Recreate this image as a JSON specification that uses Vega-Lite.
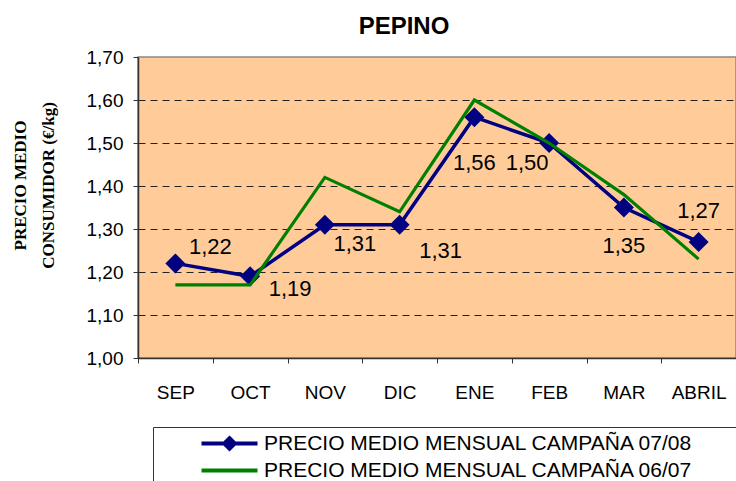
{
  "$schema": "https://vega.github.io/schema/vega-lite/v6.json",
  "autosize": {"type": "none"},
  "padding": {"left": 138, "top": 57, "right": 0, "bottom": 123},
  "width": 598,
  "height": 301,
  "background": "white",
  "config": {
    "locale": {"number": {"decimal": ",", "thousands": ".", "grouping": [3], "currency": ["", " €"]}},
    "view": {"fill": "#FFCC99", "stroke": "#888888", "strokeWidth": 1.5},
    "font": "Liberation Sans"
  },
  "title": {"text": "PEPINO", "font": "Liberation Sans", "fontSize": 24, "fontWeight": "bold", "color": "black", "anchor": "middle", "frame": "group", "dx": -33, "dy": 10, "offset": 0, "baseline": "alphabetic"},
  "data": {"values": [
    {"mes": "SEP", "serie": "PRECIO MEDIO MENSUAL CAMPAÑA 07/08", "valor": 1.22},
    {"mes": "OCT", "serie": "PRECIO MEDIO MENSUAL CAMPAÑA 07/08", "valor": 1.19},
    {"mes": "NOV", "serie": "PRECIO MEDIO MENSUAL CAMPAÑA 07/08", "valor": 1.31},
    {"mes": "DIC", "serie": "PRECIO MEDIO MENSUAL CAMPAÑA 07/08", "valor": 1.31},
    {"mes": "ENE", "serie": "PRECIO MEDIO MENSUAL CAMPAÑA 07/08", "valor": 1.56},
    {"mes": "FEB", "serie": "PRECIO MEDIO MENSUAL CAMPAÑA 07/08", "valor": 1.50},
    {"mes": "MAR", "serie": "PRECIO MEDIO MENSUAL CAMPAÑA 07/08", "valor": 1.35},
    {"mes": "ABRIL", "serie": "PRECIO MEDIO MENSUAL CAMPAÑA 07/08", "valor": 1.27},
    {"mes": "SEP", "serie": "PRECIO MEDIO MENSUAL CAMPAÑA 06/07", "valor": 1.17},
    {"mes": "OCT", "serie": "PRECIO MEDIO MENSUAL CAMPAÑA 06/07", "valor": 1.17},
    {"mes": "NOV", "serie": "PRECIO MEDIO MENSUAL CAMPAÑA 06/07", "valor": 1.42},
    {"mes": "DIC", "serie": "PRECIO MEDIO MENSUAL CAMPAÑA 06/07", "valor": 1.34},
    {"mes": "ENE", "serie": "PRECIO MEDIO MENSUAL CAMPAÑA 06/07", "valor": 1.60},
    {"mes": "FEB", "serie": "PRECIO MEDIO MENSUAL CAMPAÑA 06/07", "valor": 1.50},
    {"mes": "MAR", "serie": "PRECIO MEDIO MENSUAL CAMPAÑA 06/07", "valor": 1.38},
    {"mes": "ABRIL", "serie": "PRECIO MEDIO MENSUAL CAMPAÑA 06/07", "valor": 1.23}
  ]},
  "encoding": {
    "x": {
      "field": "mes", "type": "nominal",
      "sort": ["SEP", "OCT", "NOV", "DIC", "ENE", "FEB", "MAR", "ABRIL"],
      "scale": {"type": "band", "paddingInner": 0, "paddingOuter": 0},
      "axis": {"title": null, "labelAngle": 0, "tickBand": "extent", "tickSize": 5, "tickColor": "#333333", "domainColor": "#333333", "domainWidth": 1.5, "labelFontSize": 19, "labelPadding": 20, "labelColor": "black", "grid": false}
    },
    "y": {
      "field": "valor", "type": "quantitative",
      "scale": {"domain": [1, 1.7], "nice": false, "zero": false},
      "axis": {
        "values": [1, 1.1, 1.2, 1.3, 1.4, 1.5, 1.6, 1.7],
        "format": ".2f",
        "grid": true, "gridDash": [7, 5], "gridColor": "#222222",
        "gridOpacity": {"condition": {"test": "datum.value > 1.05 && datum.value < 1.65", "value": 1}, "value": 0},
        "tickSize": 5, "tickColor": "#333333", "domainColor": "#333333", "domainWidth": 1.5,
        "labelFontSize": 19, "labelPadding": 10, "labelColor": "black",
        "title": ["PRECIO MEDIO", "CONSUMIDOR (€/kg)"],
        "titleFont": "Liberation Serif", "titleFontSize": 17, "titleFontWeight": "bold", "titleColor": "black",
        "titleAngle": -90, "titleX": -118, "titleY": 128, "titleAlign": "center", "titleBaseline": "middle", "titleLineHeight": 28
      }
    }
  },
  "layer": [
    {
      "transform": [{"filter": "datum.serie === 'PRECIO MEDIO MENSUAL CAMPAÑA 07/08'"}],
      "mark": {"type": "line", "color": "#000080", "strokeWidth": 3.5}
    },
    {
      "transform": [{"filter": "datum.serie === 'PRECIO MEDIO MENSUAL CAMPAÑA 07/08'"}],
      "mark": {"type": "point", "shape": "diamond", "filled": true, "size": 400, "opacity": 1, "color": "#000080"}
    },
    {
      "transform": [{"filter": "datum.serie === 'PRECIO MEDIO MENSUAL CAMPAÑA 06/07'"}],
      "mark": {"type": "line", "color": "#008000", "strokeWidth": 3.2}
    },
    {
      "mark": {"type": "point", "filled": false, "size": 0, "strokeWidth": 4, "opacity": 1},
      "encoding": {
        "color": {
          "field": "serie", "type": "nominal",
          "scale": {"domain": ["PRECIO MEDIO MENSUAL CAMPAÑA 07/08", "PRECIO MEDIO MENSUAL CAMPAÑA 06/07"], "range": ["#000080", "#008000"]},
          "legend": {
            "orient": "none", "legendX": 15, "legendY": 370,
            "title": " ", "titleOrient": "right", "titlePadding": 80,
            "strokeColor": "#333333", "fillColor": "white", "padding": 6,
            "labelFontSize": 21, "labelColor": "black", "labelLimit": 700,
            "symbolSize": 196, "symbolOffset": 60, "labelOffset": 24, "rowPadding": 2,
            "symbolStrokeWidth": 4
          }
        },
        "shape": {
          "field": "serie", "type": "nominal",
          "scale": {"domain": ["PRECIO MEDIO MENSUAL CAMPAÑA 07/08", "PRECIO MEDIO MENSUAL CAMPAÑA 06/07"], "range": ["M-4,0H4M0,-0.75L0.75,0L0,0.75L-0.75,0ZM0,-0.35L0.35,0L0,0.35L-0.35,0Z", "M-4,0H4"]},
          "legend": {
            "orient": "none", "legendX": 15, "legendY": 370,
            "title": " ", "titleOrient": "right", "titlePadding": 80,
            "strokeColor": "#333333", "fillColor": "white", "padding": 6,
            "labelFontSize": 21, "labelColor": "black", "labelLimit": 700,
            "symbolSize": 196, "symbolOffset": 60, "labelOffset": 24, "rowPadding": 2,
            "symbolStrokeWidth": 4
          }
        }
      }
    },
    {
      "transform": [{"filter": "datum.serie === 'PRECIO MEDIO MENSUAL CAMPAÑA 07/08' && datum.mes === 'SEP'"}],
      "mark": {"type": "text", "fontSize": 22, "color": "black", "align": "center", "baseline": "middle", "dx": 35, "dy": -16},
      "encoding": {"text": {"field": "valor", "type": "quantitative", "format": ".2f"}}
    },
    {
      "transform": [{"filter": "datum.serie === 'PRECIO MEDIO MENSUAL CAMPAÑA 07/08' && datum.mes === 'OCT'"}],
      "mark": {"type": "text", "fontSize": 22, "color": "black", "align": "center", "baseline": "middle", "dx": 40, "dy": 13},
      "encoding": {"text": {"field": "valor", "type": "quantitative", "format": ".2f"}}
    },
    {
      "transform": [{"filter": "datum.serie === 'PRECIO MEDIO MENSUAL CAMPAÑA 07/08' && datum.mes === 'NOV'"}],
      "mark": {"type": "text", "fontSize": 22, "color": "black", "align": "center", "baseline": "middle", "dx": 30, "dy": 19},
      "encoding": {"text": {"field": "valor", "type": "quantitative", "format": ".2f"}}
    },
    {
      "transform": [{"filter": "datum.serie === 'PRECIO MEDIO MENSUAL CAMPAÑA 07/08' && datum.mes === 'DIC'"}],
      "mark": {"type": "text", "fontSize": 22, "color": "black", "align": "center", "baseline": "middle", "dx": 41, "dy": 26},
      "encoding": {"text": {"field": "valor", "type": "quantitative", "format": ".2f"}}
    },
    {
      "transform": [{"filter": "datum.serie === 'PRECIO MEDIO MENSUAL CAMPAÑA 07/08' && datum.mes === 'ENE'"}],
      "mark": {"type": "text", "fontSize": 22, "color": "black", "align": "center", "baseline": "middle", "dx": 0, "dy": 46},
      "encoding": {"text": {"field": "valor", "type": "quantitative", "format": ".2f"}}
    },
    {
      "transform": [{"filter": "datum.serie === 'PRECIO MEDIO MENSUAL CAMPAÑA 07/08' && datum.mes === 'FEB'"}],
      "mark": {"type": "text", "fontSize": 22, "color": "black", "align": "center", "baseline": "middle", "dx": -22, "dy": 20},
      "encoding": {"text": {"field": "valor", "type": "quantitative", "format": ".2f"}}
    },
    {
      "transform": [{"filter": "datum.serie === 'PRECIO MEDIO MENSUAL CAMPAÑA 07/08' && datum.mes === 'MAR'"}],
      "mark": {"type": "text", "fontSize": 22, "color": "black", "align": "center", "baseline": "middle", "dx": 0, "dy": 38},
      "encoding": {"text": {"field": "valor", "type": "quantitative", "format": ".2f"}}
    },
    {
      "transform": [{"filter": "datum.serie === 'PRECIO MEDIO MENSUAL CAMPAÑA 07/08' && datum.mes === 'ABRIL'"}],
      "mark": {"type": "text", "fontSize": 22, "color": "black", "align": "center", "baseline": "middle", "dx": 0, "dy": -31},
      "encoding": {"text": {"field": "valor", "type": "quantitative", "format": ".2f"}}
    }
  ]
}
